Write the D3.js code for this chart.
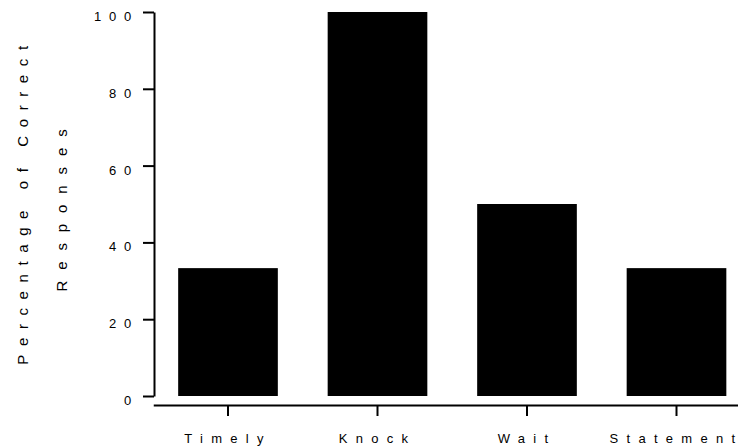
<!DOCTYPE html>
<html>
<head>
<meta charset="utf-8">
<script src="https://cdn.jsdelivr.net/npm/d3@7"></script>
<style>
  html, body { margin: 0; padding: 0; background: #fff; }
  svg { display: block; }
  text { font-family: "Liberation Sans", Arial, sans-serif; fill: #000; }
</style>
</head>
<body>
<svg id="chart" width="738" height="448"></svg>
<script>
// Share of correct responses per item
const categories = ["Timely", "Knock", "Wait", "Statement"];
const values = [33.3, 100, 50, 33.3];
const yTicks = [0, 20, 40, 60, 80, 100];
const yTitleLines = ["Percentage of Correct", "Responses"];

const svg = d3.select("#chart");

const y = d3.scaleLinear().domain([0, 100]).range([396, 12]);
const x = d3.scaleBand()
  .domain(categories)
  .range([153.25, 751.25])
  .paddingInner(1 / 3)
  .paddingOuter(1 / 6);

// bars
svg.append("g")
  .selectAll("rect")
  .data(categories.map((c, i) => ({ c, v: values[i] })))
  .join("rect")
  .attr("x", d => x(d.c))
  .attr("width", x.bandwidth())
  .attr("y", d => y(d.v))
  .attr("height", d => y(0) - y(d.v))
  .attr("fill", "#000");

// y axis
const yAxis = svg.append("g")
  .attr("transform", "translate(154,0)")
  .call(d3.axisLeft(y).tickValues(yTicks).tickSize(11).tickSizeOuter(0).tickPadding(4));
yAxis.select(".domain").attr("stroke", "#000").attr("stroke-width", 2);
yAxis.selectAll(".tick line").attr("stroke", "#000").attr("stroke-width", 2);
yAxis.selectAll(".tick text")
  .attr("dy", 8.5)
  .style("font-size", "13px")
  .style("letter-spacing", "7.8px")
  .attr("fill", "#111");

// x axis
const xAxis = svg.append("g")
  .attr("transform", "translate(0,405)")
  .call(d3.axisBottom(x).tickSize(11).tickSizeOuter(0));
xAxis.select(".domain").attr("stroke", "#000").attr("stroke-width", 2);
xAxis.selectAll(".tick line").attr("stroke", "#000").attr("stroke-width", 2);
xAxis.selectAll(".tick text")
  .attr("y", 38)
  .attr("dy", 0)
  .style("font-size", "13px")
  .style("letter-spacing", "8.3px")
  .attr("fill", "#111");

// y axis title, two rotated lines
const titleSpec = [
  { x: 28, cy: 201, ls: 8.6 },
  { x: 67, cy: 205, ls: 10.9 }
];
svg.append("g")
  .selectAll("text")
  .data(yTitleLines)
  .join("text")
  .attr("transform", (d, i) => `translate(${titleSpec[i].x},${titleSpec[i].cy}) rotate(-90)`)
  .attr("text-anchor", "middle")
  .style("font-size", "15px")
  .style("letter-spacing", (d, i) => titleSpec[i].ls + "px")
  .attr("fill", "#111")
  .text(d => d);
</script>
</body>
</html>
